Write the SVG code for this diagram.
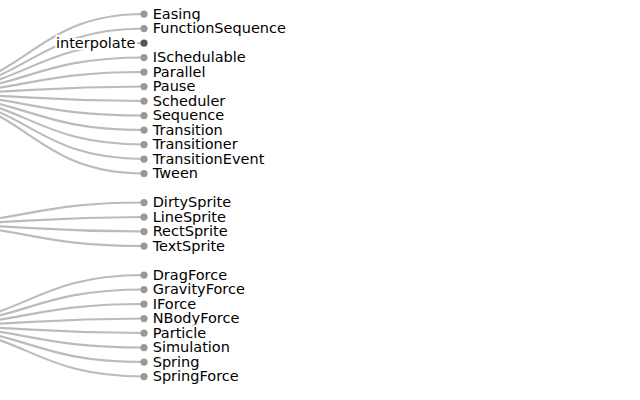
<svg xmlns="http://www.w3.org/2000/svg" width="640" height="400" viewBox="0 0 640 400">
<style>
.links path{fill:none;stroke:#555;stroke-opacity:0.4;stroke-width:2.175}
.leaf circle{fill:#999}
.inner circle{fill:#555}
text{font-family:"DejaVu Sans",sans-serif;font-size:14.5px;fill:#000;stroke:#fff;stroke-width:4.35;stroke-linejoin:round;paint-order:stroke}
.leaf text{text-anchor:start}
.inner text{text-anchor:end}
</style>
<rect width="640" height="400" fill="#fff"/>
<g class="links">
<path d="M-90,93.75C27,93.75 27,14 144,14"/>
<path d="M-90,93.75C27,93.75 27,28.5 144,28.5"/>
<path d="M-90,93.75C27,93.75 27,43 144,43"/>
<path d="M-90,93.75C27,93.75 27,57.5 144,57.5"/>
<path d="M-90,93.75C27,93.75 27,72 144,72"/>
<path d="M-90,93.75C27,93.75 27,86.5 144,86.5"/>
<path d="M-90,93.75C27,93.75 27,101 144,101"/>
<path d="M-90,93.75C27,93.75 27,115.5 144,115.5"/>
<path d="M-90,93.75C27,93.75 27,130 144,130"/>
<path d="M-90,93.75C27,93.75 27,144.5 144,144.5"/>
<path d="M-90,93.75C27,93.75 27,159 144,159"/>
<path d="M-90,93.75C27,93.75 27,173.5 144,173.5"/>
<path d="M-90,224.25C27,224.25 27,202.5 144,202.5"/>
<path d="M-90,224.25C27,224.25 27,217 144,217"/>
<path d="M-90,224.25C27,224.25 27,231.5 144,231.5"/>
<path d="M-90,224.25C27,224.25 27,246 144,246"/>
<path d="M-90,325.75C27,325.75 27,275 144,275"/>
<path d="M-90,325.75C27,325.75 27,289.5 144,289.5"/>
<path d="M-90,325.75C27,325.75 27,304 144,304"/>
<path d="M-90,325.75C27,325.75 27,318.5 144,318.5"/>
<path d="M-90,325.75C27,325.75 27,333 144,333"/>
<path d="M-90,325.75C27,325.75 27,347.5 144,347.5"/>
<path d="M-90,325.75C27,325.75 27,362 144,362"/>
<path d="M-90,325.75C27,325.75 27,376.5 144,376.5"/>
</g>
<g id="node-Easing" class="leaf" transform="translate(144,14)"><circle r="3.625"/><text x="8.7" dy="0.31em">Easing</text></g>
<g id="node-FunctionSequence" class="leaf" transform="translate(144,28.5)"><circle r="3.625"/><text x="8.7" dy="0.31em">FunctionSequence</text></g>
<g id="node-interpolate" class="inner" transform="translate(144,43)"><circle r="3.625"/><text x="-8.7" dy="0.31em">interpolate</text></g>
<g id="node-ISchedulable" class="leaf" transform="translate(144,57.5)"><circle r="3.625"/><text x="8.7" dy="0.31em">ISchedulable</text></g>
<g id="node-Parallel" class="leaf" transform="translate(144,72)"><circle r="3.625"/><text x="8.7" dy="0.31em">Parallel</text></g>
<g id="node-Pause" class="leaf" transform="translate(144,86.5)"><circle r="3.625"/><text x="8.7" dy="0.31em">Pause</text></g>
<g id="node-Scheduler" class="leaf" transform="translate(144,101)"><circle r="3.625"/><text x="8.7" dy="0.31em">Scheduler</text></g>
<g id="node-Sequence" class="leaf" transform="translate(144,115.5)"><circle r="3.625"/><text x="8.7" dy="0.31em">Sequence</text></g>
<g id="node-Transition" class="leaf" transform="translate(144,130)"><circle r="3.625"/><text x="8.7" dy="0.31em">Transition</text></g>
<g id="node-Transitioner" class="leaf" transform="translate(144,144.5)"><circle r="3.625"/><text x="8.7" dy="0.31em">Transitioner</text></g>
<g id="node-TransitionEvent" class="leaf" transform="translate(144,159)"><circle r="3.625"/><text x="8.7" dy="0.31em">TransitionEvent</text></g>
<g id="node-Tween" class="leaf" transform="translate(144,173.5)"><circle r="3.625"/><text x="8.7" dy="0.31em">Tween</text></g>
<g id="node-DirtySprite" class="leaf" transform="translate(144,202.5)"><circle r="3.625"/><text x="8.7" dy="0.31em">DirtySprite</text></g>
<g id="node-LineSprite" class="leaf" transform="translate(144,217)"><circle r="3.625"/><text x="8.7" dy="0.31em">LineSprite</text></g>
<g id="node-RectSprite" class="leaf" transform="translate(144,231.5)"><circle r="3.625"/><text x="8.7" dy="0.31em">RectSprite</text></g>
<g id="node-TextSprite" class="leaf" transform="translate(144,246)"><circle r="3.625"/><text x="8.7" dy="0.31em">TextSprite</text></g>
<g id="node-DragForce" class="leaf" transform="translate(144,275)"><circle r="3.625"/><text x="8.7" dy="0.31em">DragForce</text></g>
<g id="node-GravityForce" class="leaf" transform="translate(144,289.5)"><circle r="3.625"/><text x="8.7" dy="0.31em">GravityForce</text></g>
<g id="node-IForce" class="leaf" transform="translate(144,304)"><circle r="3.625"/><text x="8.7" dy="0.31em">IForce</text></g>
<g id="node-NBodyForce" class="leaf" transform="translate(144,318.5)"><circle r="3.625"/><text x="8.7" dy="0.31em">NBodyForce</text></g>
<g id="node-Particle" class="leaf" transform="translate(144,333)"><circle r="3.625"/><text x="8.7" dy="0.31em">Particle</text></g>
<g id="node-Simulation" class="leaf" transform="translate(144,347.5)"><circle r="3.625"/><text x="8.7" dy="0.31em">Simulation</text></g>
<g id="node-Spring" class="leaf" transform="translate(144,362)"><circle r="3.625"/><text x="8.7" dy="0.31em">Spring</text></g>
<g id="node-SpringForce" class="leaf" transform="translate(144,376.5)"><circle r="3.625"/><text x="8.7" dy="0.31em">SpringForce</text></g>
</svg>
